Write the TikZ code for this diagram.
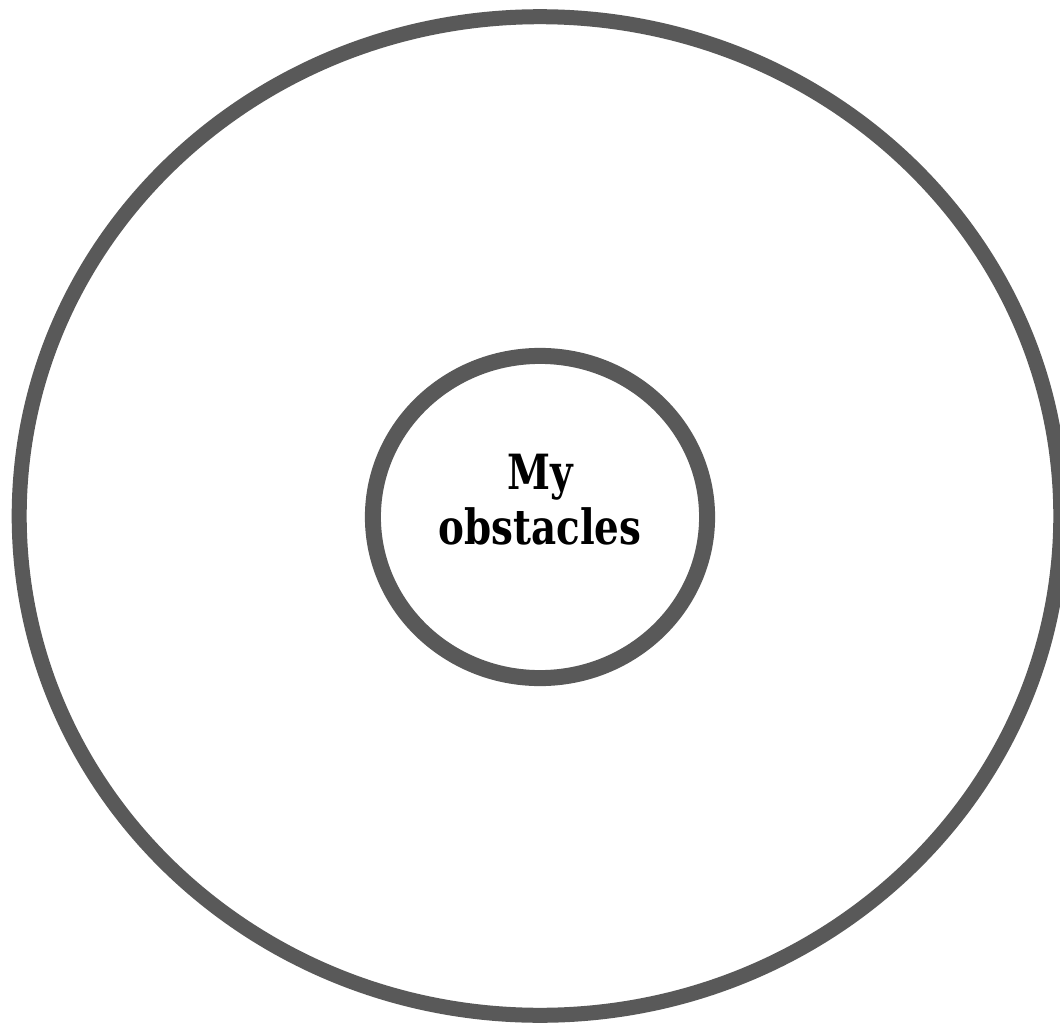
\documentclass[tikz,border=0pt]{standalone}
\usepackage{fontspec}
\setmainfont{DejaVu Serif}
\usetikzlibrary{shapes.geometric}
\definecolor{ringgray}{RGB}{89,89,89}
\begin{document}
\begin{tikzpicture}[
      x=0.01cm, y=-0.01cm,
      ring/.style={ellipse, draw=ringgray, inner sep=0pt},
      outerring/.style={ring, line width=0.15cm, minimum width=10.41cm, minimum height=9.98cm},
      innerring/.style={ring, line width=0.16cm, minimum width=3.34cm, minimum height=3.22cm},
      title/.style={align=center, inner sep=0pt, xscale=0.8, transform shape, font=\fontsize{13.8pt}{15.6pt}\selectfont\bfseries}
  ]
    \useasboundingbox (0,0) rectangle (1060,1024);
    \node[outerring] (world) at (540,516) {};
    \node[innerring] (self) at (540,517) {};
    \begin{scope}[shift={(540,500)}]
      \node[title] (obstacles) at (0,0) {My\\obstacles};
    \end{scope}
  \end{tikzpicture}
\end{document}
